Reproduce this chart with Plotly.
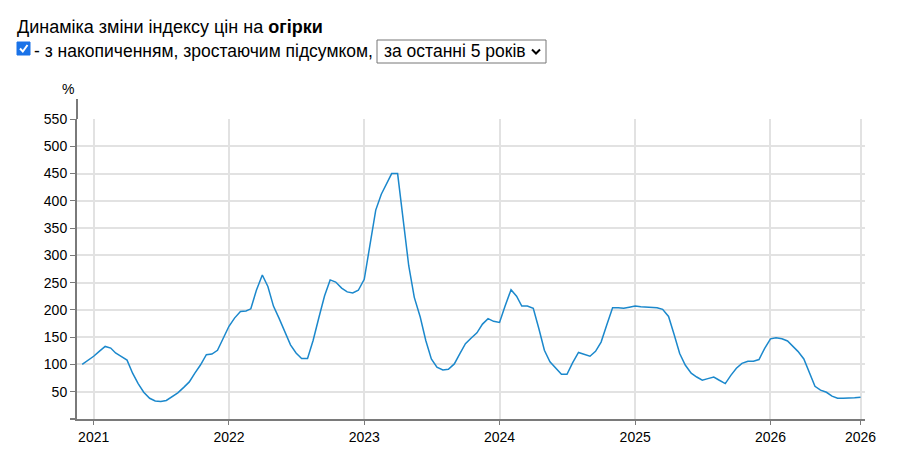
import plotly.graph_objects as go
import pandas as pd

# ---- data (semi-monthly observations, 1st and 16th of each month) ----
first_date = "2020-12-01"
last_date = "2026-09-01"
values = [
    100, 107,                                                   # 2020-12
    115, 124, 133, 130, 121, 115, 108, 84, 65, 49, 38, 33,       # 2021 Jan-Jun
    32, 34, 41, 48, 58, 68, 84, 99, 118, 119, 126, 148,          # 2021 Jul-Dec
    170, 185, 197, 198, 202, 236, 264, 243, 207, 185, 160, 136,  # 2022 Jan-Jun
    121, 111, 111, 144, 187, 226, 255, 251, 240, 233, 231, 236,  # 2022 Jul-Dec
    256, 318, 383, 412, 429, 450, 450, 369, 281, 223, 187, 144,  # 2023 Jan-Jun
    110, 95, 90, 91, 101, 120, 138, 148, 158, 174, 184, 179,     # 2023 Jul-Dec
    177, 207, 237, 225, 207, 207, 203, 166, 126, 105, 93, 82,    # 2024 Jan-Jun
    82, 103, 122, 119, 115, 124, 141, 172, 204, 204, 203, 205,   # 2024 Jul-Dec
    207, 206, 205, 205, 204, 201, 188, 155, 120, 99, 84, 77,     # 2025 Jan-Jun
    71, 74, 77, 71, 65, 80, 93, 102, 106, 106, 109, 129,         # 2025 Jul-Dec
    147, 149, 147, 143, 135, 124, 110, 85, 60, 53, 49, 42,       # 2026 Jan-Jun
    38, 38, 38, 39, 40,                                          # 2026 Jul-Sep
]
x_tick_vals = ["2021-01-01", "2022-01-01", "2023-01-01", "2024-01-01",
               "2025-01-01", "2026-01-01", "2026-09-01"]
x_tick_text = ["2021", "2022", "2023", "2024", "2025", "2026", "2026"]
y_tick_vals = [50, 100, 150, 200, 250, 300, 350, 400, 450, 500, 550]

title_text = "Динаміка зміни індексу цін на <b>огірки</b>"
option_text = "- з накопиченням, зростаючим підсумком,"
select_text = "за останні 5 років"

# semi-monthly date list
dates = []
for ym in pd.date_range(first_date, last_date, freq="MS"):
    dates.append(ym)
    dates.append(ym + pd.Timedelta(days=15))
dates = [d for d in dates if pd.Timestamp(first_date) <= d <= pd.Timestamp(last_date)]
assert len(dates) == len(values), (len(dates), len(values))

# ---- layout geometry ----
# the page body has an 8px margin, so the figure starts at (8, 8) of the window
OFF = 8
W, H = 900 - 2 * OFF, 468 - 2 * OFF
# plot area in window pixels
L, R, T, B = 77, 865, 119, 419

def px(x):
    return (x - L) / (R - L)

def py(y):
    return (B - y) / (B - T)

FONT = "Arial, Liberation Sans, sans-serif"
line_color = "#1b88cc"
axis_color = "#7a7a7a"
grid_color = "#e2e2e2"

fig = go.Figure()
fig.add_trace(go.Scatter(
    x=dates, y=values, mode="lines",
    line=dict(color=line_color, width=1.5),
    hoverinfo="x+y", showlegend=False,
))

shapes = [
    # y axis line extension above the grid
    dict(type="line", xref="paper", yref="paper", x0=0, x1=0, y0=1, y1=py(99),
         line=dict(color=axis_color, width=2)),
    # x axis line extension to the left
    dict(type="line", xref="paper", yref="paper", x0=px(70), x1=0, y0=0, y1=0,
         line=dict(color=axis_color, width=2)),
    # checkbox
    dict(type="rect", xref="paper", yref="paper", x0=px(17), x1=px(30), y0=py(55), y1=py(42),
         fillcolor="#1a73e8", line=dict(color="#1a73e8", width=1)),
    dict(type="path", xref="paper", yref="paper",
         path=f"M {px(20)} {py(48.5)} L {px(22.8)} {py(51.5)} L {px(27.5)} {py(45)}",
         line=dict(color="white", width=2)),
    # select box
    dict(type="rect", xref="paper", yref="paper", x0=px(377), x1=px(546), y0=py(63), y1=py(40),
         fillcolor="white", line=dict(color="#767676", width=1)),
    dict(type="path", xref="paper", yref="paper",
         path=f"M {px(532)} {py(49.5)} L {px(536)} {py(53.5)} L {px(540)} {py(49.5)}",
         line=dict(color="black", width=2)),
]

annotations = [
    dict(text=title_text, x=px(15), y=py(27), xref="paper", yref="paper",
         xanchor="left", yanchor="middle", showarrow=False,
         font=dict(family=FONT, size=18, color="black")),
    dict(text=option_text, x=px(32), y=py(51), xref="paper", yref="paper",
         xanchor="left", yanchor="middle", showarrow=False,
         font=dict(family=FONT, size=17.5, color="black")),
    dict(text=select_text, x=px(382), y=py(51.5), xref="paper", yref="paper",
         xanchor="left", yanchor="middle", showarrow=False,
         font=dict(family=FONT, size=17.5, color="black")),
    dict(text="%", x=px(68), y=py(89), xref="paper", yref="paper",
         xanchor="center", yanchor="middle", showarrow=False,
         font=dict(family=FONT, size=14, color="black")),
]

fig.update_layout(
    width=W, height=H,
    margin=dict(l=L - OFF, r=(W + OFF) - R, t=T - OFF, b=(H + OFF) - B, pad=0),
    paper_bgcolor="white", plot_bgcolor="white",
    font=dict(family=FONT, size=14, color="black"),
    shapes=shapes, annotations=annotations,
    xaxis=dict(
        type="date",
        range=["2020-11-17", "2026-09-13"],
        tickmode="array", tickvals=x_tick_vals, ticktext=x_tick_text,
        showgrid=True, gridcolor=grid_color, gridwidth=2,
        showline=True, linecolor=axis_color, linewidth=2,
        ticks="outside", ticklen=4, tickcolor=axis_color, tickwidth=1,
        tickfont=dict(family=FONT, size=14, color="black"),
        zeroline=False, fixedrange=True,
    ),
    yaxis=dict(
        range=[0, 550],
        tickmode="array", tickvals=y_tick_vals,
        showgrid=True, gridcolor=grid_color, gridwidth=2,
        showline=True, linecolor=axis_color, linewidth=2,
        ticks="outside", ticklen=5, tickcolor=axis_color, tickwidth=1,
        tickfont=dict(family=FONT, size=14, color="black"),
        zeroline=False, fixedrange=True,
    ),
)

fig.write_html("out.html", config={"displayModeBar": False})
